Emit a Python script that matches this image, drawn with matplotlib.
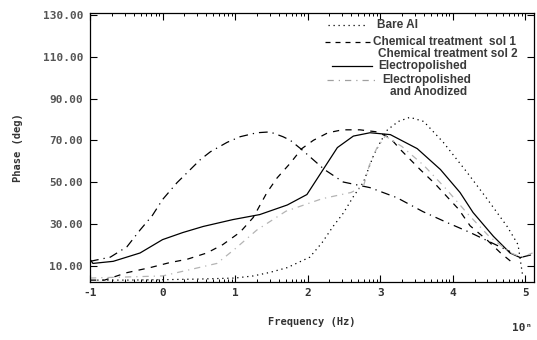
import numpy as np
import matplotlib
matplotlib.use('Agg')
import matplotlib.pyplot as plt
from matplotlib.lines import Line2D

# log10(frequency) / phase (deg)
bare_x = [-0.9, -0.5, 0, 0.5, 1.0, 1.25, 1.48, 1.72, 2.03, 2.2, 2.35, 2.49, 2.63, 2.77,
          2.9, 3.0, 3.1, 3.25, 3.41, 3.6, 3.87, 4.2, 4.48, 4.75, 4.9, 4.96]
bare_y = [3, 3, 3.2, 3.5, 4, 5, 6.7, 9, 14, 21, 28.7, 35, 43, 50,
          62, 69, 75, 79, 81, 79, 69, 54.5, 41.6, 28.7, 20, 6]

sol1_x = [-1, -0.8, -0.5, -0.17, 0.1, 0.34, 0.61, 0.83, 1.07, 1.25, 1.44, 1.58, 1.76, 1.92,
          2.08, 2.28, 2.48, 2.72, 2.96, 3.14, 3.28, 3.55, 3.76, 4.08, 4.24, 4.48, 4.66, 4.8]
sol1_y = [3, 3, 6.5, 9, 11.4, 13, 16, 20, 26, 33, 45, 52, 59, 66,
          70, 73.6, 75, 75, 74, 71, 65.5, 56, 49, 37, 29, 22, 16, 12]

sol2_x = [-1, -0.72, -0.49, -0.31, -0.14, 0, 0.2, 0.34, 0.52, 0.66, 0.89, 1.07, 1.3, 1.48,
          1.66, 1.76, 1.92, 2.23, 2.49, 2.86, 3.23, 3.59, 3.92, 4.24, 4.59, 4.79]
sol2_y = [12, 14, 19, 27, 34, 41.6, 49.7, 54.5, 60.7, 64.5, 69, 71.7, 73.6, 74,
          71.7, 70, 65.5, 56, 50, 47.3, 42.5, 35.8, 30.6, 25.8, 20, 16.7]

elec_x = [-1, -0.96, -0.68, -0.31, 0, 0.28, 0.56, 0.97, 1.34, 1.72, 1.99, 2.41, 2.63,
          2.86, 3.14, 3.51, 3.83, 4.1, 4.28, 4.56, 4.79, 4.93, 5.07]
elec_y = [13, 11, 12, 16, 22.4, 25.8, 28.7, 32, 34.4, 39, 44, 66.5, 72,
          73.6, 72.7, 66, 56, 45, 35.4, 24, 16, 13.8, 15]

anod_x = [-1, 0, 0.75, 1.0, 1.3, 1.7, 2.2, 2.6, 2.77, 2.85, 2.95, 3.07, 3.3, 3.6,
          3.9, 4.2, 4.5, 4.8, 4.95, 5.1]
anod_y = [4, 5, 11, 18, 27, 36, 42, 45, 48, 58, 66, 72, 67, 58,
          47, 35, 24, 16, 14, 16]

yticks = [10, 30, 50, 70, 90, 110, 130]
xticks = [-1, 0, 1, 2, 3, 4, 5]

mono = ['DejaVu Sans Mono', 'DejaVu Sans']
txt = '#333333'

fig = plt.figure(figsize=(5.37, 3.40), dpi=100)
ax = fig.add_axes([0.1676, 0.1706, 0.9944 - 0.1676, 0.9626 - 0.1706])

lw = 0.9
ax.plot(bare_x, bare_y, color='black', lw=lw, dashes=(1, 3))
ax.plot(sol1_x, sol1_y, color='black', lw=lw, dashes=(5, 5))
ax.plot(sol2_x, sol2_y, color='black', lw=lw, dashes=(7, 4, 1, 4))
ax.plot(elec_x, elec_y, color='black', lw=lw)
ax.plot(anod_x, anod_y, color='#b4b4b4', lw=lw, dashes=(5, 4, 1, 4))

ax.set_xlim(-1, 5.12)
ax.set_ylim(2.1, 131.1)

ax.set_yticks(yticks)
ax.set_yticklabels(['%.2f' % v for v in yticks], family=mono, weight='bold',
                   fontsize=8, color='#555555')
ax.set_xticks(xticks)
ax.set_xticklabels([str(v) for v in xticks], family=mono, weight='bold',
                   fontsize=8, color=txt)
minor = [d + np.log10(k) for d in range(-1, 5) for k in range(2, 10)]
ax.set_xticks(minor, minor=True)
ax.tick_params(axis='both', which='major', direction='in', length=5, width=0.8,
               top=True, right=True, pad=4)
ax.tick_params(axis='x', which='minor', direction='in', length=2.5, width=0.7, top=True)
ax.tick_params(axis='y', which='major', pad=5)
for s in ax.spines.values():
    s.set_linewidth(0.9)

ax.set_ylabel('Phase (deg)', family=mono, weight='bold', fontsize=7.5, color=txt, labelpad=14)
ax.set_xlabel('Frequency (Hz)', family=mono, weight='bold', fontsize=7.5, color=txt, labelpad=14)
fig.text(522 / 537, 1 - 328 / 340, '10ⁿ', family=mono, weight='bold', fontsize=8,
         color=txt, ha='center', va='center')

# hand-drawn style legend
def fx(px):
    return px / 537

def fy(py):
    return 1 - py / 340

leg = [
    ('Bare Al', 328, 367, 25, 377, 'black', (1, 3)),
    ('Chemical treatment  sol 1', 325, 370, 42, 373, 'black', (4, 4)),
    ('Chemical treatment sol 2', None, None, 54, 378, 'black', None),
    ('Electropolished', 332, 372, 66, 378, 'black', None),
    ('Electropolished', 327, 377, 80, 382, '#a0a0a0', (5, 4, 1, 4)),
    ('and Anodized', None, None, 92, 390, 'black', None),
]
for label, x0, x1, yy, xt, col, dsh in leg:
    if x0 is not None:
        ln = Line2D([fx(x0), fx(x1)], [fy(yy), fy(yy)], color=col, lw=0.9,
                    transform=fig.transFigure)
        if dsh:
            ln.set_dashes(dsh)
        fig.add_artist(ln)
    fig.text(fx(xt), fy(yy), label, family=['Liberation Sans', 'DejaVu Sans'],
             weight='bold', fontsize=8.5, color='#3a3a3a', ha='left', va='center')

fig.savefig('out.png', dpi=100)
